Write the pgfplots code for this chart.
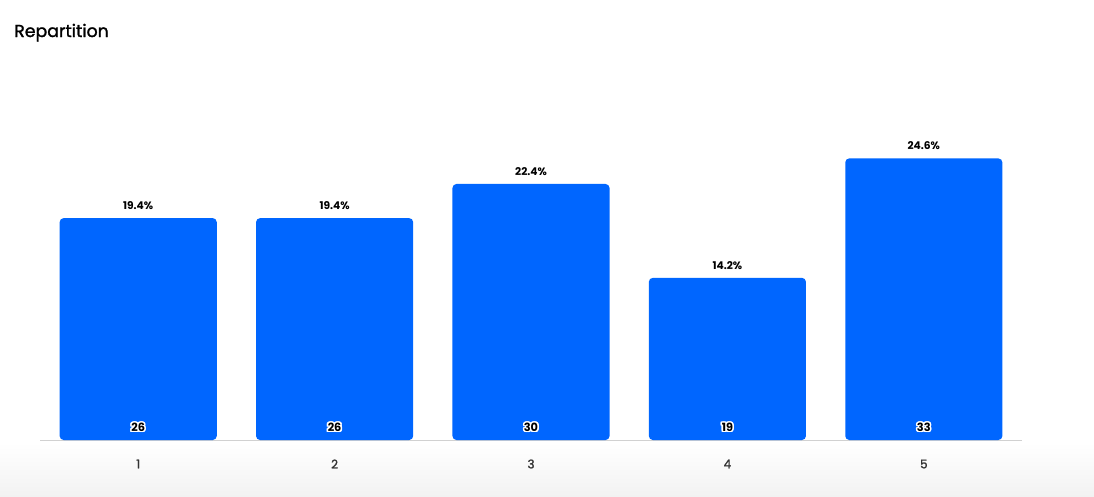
\documentclass[border=0pt]{standalone}
\usepackage{fontspec}
\setmainfont{Poppins}
\newfontfamily\medfont[FakeBold=1.5]{Poppins}
\usepackage{pgfplots}
\pgfplotsset{compat=1.18}
\usepackage{contour}
\contourlength{1.1pt}
\definecolor{barblue}{HTML}{0066FF}
\definecolor{ticktext}{HTML}{333333}
\begin{document}
\begin{tikzpicture}
\path[use as bounding box] (0,0) rectangle (820.5pt,372pt);
\shade[top color=white, bottom color=black!5, draw=none] (0,0) rectangle (820.5pt,40pt);
\node[anchor=west, inner sep=0pt, font=\medfont\fontsize{13}{15}\selectfont] at (10.5pt,347.5pt) {Repartition};
\begin{axis}[
  at={(30pt,42pt)}, anchor=south west,
  scale only axis, width=736.5pt, height=288pt,
  xmin=-0.5, xmax=4.5, ymin=0, ymax=45,
  axis x line*=bottom, axis y line=none,
  x axis line style={black!18, line width=0.6pt},
  xtick={0,1,2,3,4}, xticklabels={1,2,3,4,5},
  major tick length=0pt,
  xticklabel style={anchor=center, yshift=-18pt, text=ticktext, font=\medfont\fontsize{9}{10}\selectfont},
  /pgf/number format/assume math mode=true,
  clip=false,
]
\addplot[ybar, bar width=0.8, bar shift=0pt, fill=barblue, draw=none, rounded corners=3pt,
  point meta=explicit symbolic,
  nodes near coords,
  nodes near coords style={anchor=center, yshift=9.5pt, text=black, font=\bfseries\fontsize{8}{9}\selectfont},
] coordinates {(0,26) [19.4\%] (1,26) [19.4\%] (2,30) [22.4\%] (3,19) [14.2\%] (4,33) [24.6\%]};
\addplot[draw=none, mark=none, only marks,
  point meta=explicit symbolic,
  nodes near coords={\contour{white}{\pgfplotspointmeta}},
  nodes near coords style={anchor=center, yshift=9pt, text=black, font=\bfseries\fontsize{8.5}{9}\selectfont},
] coordinates {(0,0) [26] (1,0) [26] (2,0) [30] (3,0) [19] (4,0) [33]};
\end{axis}
\end{tikzpicture}
\end{document}
